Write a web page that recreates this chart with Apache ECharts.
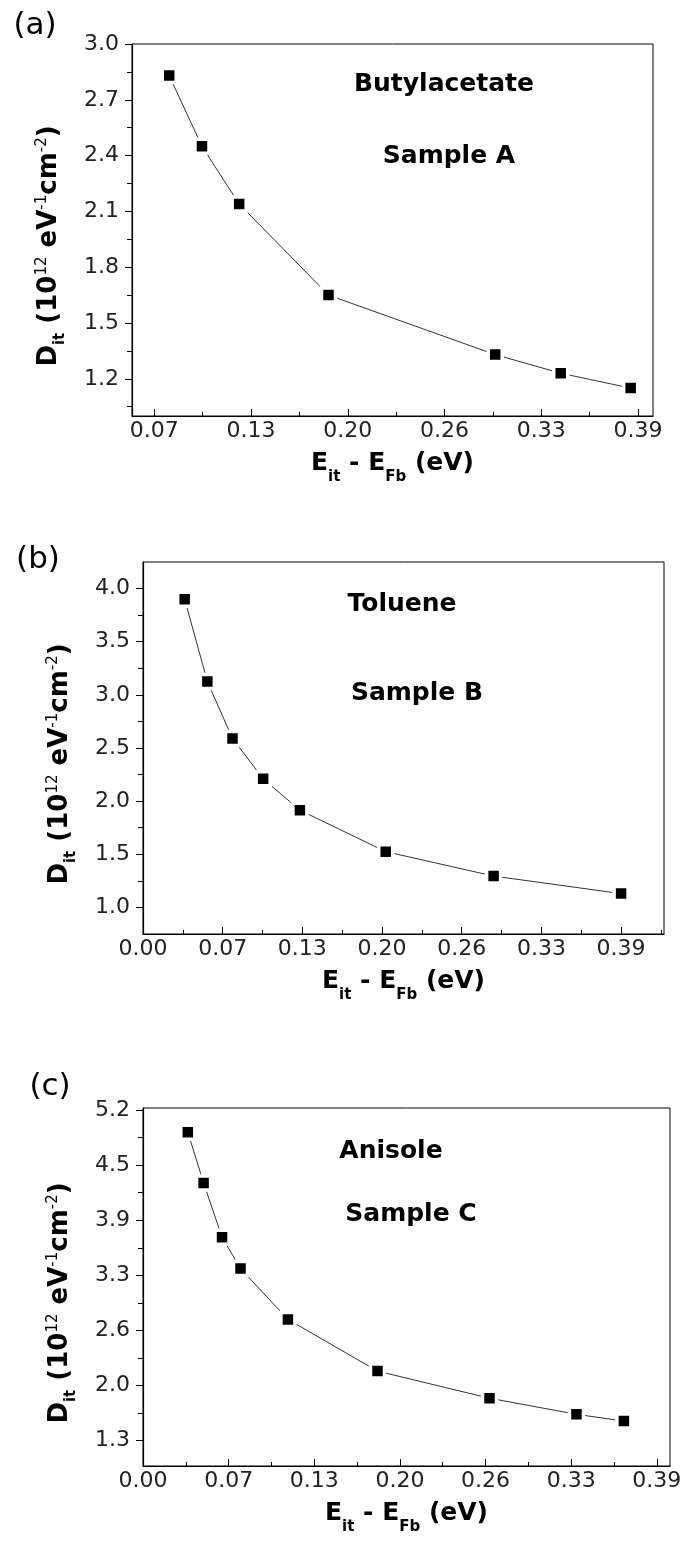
<!DOCTYPE html>
<html>
<head>
<meta charset="utf-8" />
<title>Dit vs energy</title>
<script src="https://cdn.jsdelivr.net/npm/echarts@6.0.0/dist/echarts.min.js"></script>
<style>
  body { margin: 0; padding: 0; background: #fff; }
  #main { width: 687px; height: 1550px; }
</style>
</head>
<body>
<div id="main"></div>
<script>
// ---- data ----
// (a) butylacetate, sample A
var aX = [0.075, 0.097, 0.122, 0.182, 0.294, 0.338, 0.385];
var aY = [2.83, 2.45, 2.14, 1.65, 1.33, 1.23, 1.15];
// (b) toluene, sample B
var bX = [0.034, 0.0525, 0.073, 0.098, 0.128, 0.198, 0.286, 0.39];
var bY = [3.90, 3.125, 2.59, 2.21, 1.915, 1.525, 1.295, 1.13];
// (c) anisole, sample C
var cX = [0.034, 0.046, 0.060, 0.074, 0.110, 0.178, 0.263, 0.329, 0.365];
var cY = [4.94, 4.34, 3.70, 3.33, 2.73, 2.12, 1.80, 1.61, 1.53];

// tick values and the labels printed at them
var aXTicks = [0.065, 0.13, 0.195, 0.26, 0.325, 0.39];
var aXLabels = ['0.07', '0.13', '0.20', '0.26', '0.33', '0.39'];
var aYTicks = [1.2, 1.5, 1.8, 2.1, 2.4, 2.7, 3.0];
var aYLabels = ['1.2', '1.5', '1.8', '2.1', '2.4', '2.7', '3.0'];

var bXTicks = [0, 0.065, 0.13, 0.195, 0.26, 0.325, 0.39];
var bXLabels = ['0.00', '0.07', '0.13', '0.20', '0.26', '0.33', '0.39'];
var bYTicks = [1.0, 1.5, 2.0, 2.5, 3.0, 3.5, 4.0];
var bYLabels = ['1.0', '1.5', '2.0', '2.5', '3.0', '3.5', '4.0'];

var cXTicks = [0, 0.065, 0.13, 0.195, 0.26, 0.325, 0.39];
var cXLabels = ['0.00', '0.07', '0.13', '0.20', '0.26', '0.33', '0.39'];
var cYTicks = [1.3, 1.95, 2.6, 3.25, 3.9, 4.55, 5.2];
var cYLabels = ['1.3', '2.0', '2.6', '3.3', '3.9', '4.5', '5.2'];

var panelNames = ['(a)', '(b)', '(c)'];
var solvents = ['Butylacetate', 'Toluene', 'Anisole'];
var samples = ['Sample A', 'Sample B', 'Sample C'];

var FONT = 'DejaVu Sans';

function zip(xs, ys) {
  return xs.map(function (x, i) { return [x, ys[i]]; });
}
function labelFor(ticks, labels) {
  return function (v) {
    var best = 0;
    for (var i = 1; i < ticks.length; i++) {
      if (Math.abs(ticks[i] - v) < Math.abs(ticks[best] - v)) best = i;
    }
    return labels[best];
  };
}
// minor ticks halfway between the major ones, kept inside the axis range
function minors(ticks, min, max) {
  var step = ticks[1] - ticks[0];
  var out = [];
  for (var i = -1; i < ticks.length; i++) {
    var m = (i < 0 ? ticks[0] - step / 2 : ticks[i] + step / 2);
    if (m > min + 1e-9 && m < max - 1e-9) out.push(+m.toFixed(4));
  }
  return out;
}

var panels = [
  { x: aX, y: aY, xt: aXTicks, xl: aXLabels, yt: aYTicks, yl: aYLabels,
    xMin: 0.05, xMax: 0.40, yMin: 1.0, yMax: 3.0,
    grid: { left: 132, top: 44, width: 521, height: 372 } },
  { x: bX, y: bY, xt: bXTicks, xl: bXLabels, yt: bYTicks, yl: bYLabels,
    xMin: 0, xMax: 0.425, yMin: 0.75, yMax: 4.25,
    grid: { left: 143, top: 562, width: 521, height: 372 } },
  { x: cX, y: cY, xt: cXTicks, xl: cXLabels, yt: cYTicks, yl: cYLabels,
    xMin: 0, xMax: 0.40, yMin: 1.0, yMax: 5.225,
    grid: { left: 143, top: 1108, width: 527, height: 358 } }
];

var xName = '{m|E}{s|it}{m| - E}{s|Fb}{m| (eV)}';
var yName = '{m|D}{s|it}{m| (10}{p|12}{m| eV}{p|-1}{m|cm}{p|-2}{m|)}';

var grids = [], xAxes = [], yAxes = [], series = [];

panels.forEach(function (p, i) {
  grids.push({
    left: p.grid.left, top: p.grid.top, width: p.grid.width, height: p.grid.height,
    show: true, borderColor: '#000', borderWidth: 1, backgroundColor: 'transparent',
    outerBoundsMode: 'none', containLabel: false
  });

  // main x axis
  xAxes.push({
    type: 'value', gridIndex: i, position: 'bottom', min: p.xMin, max: p.xMax,
    name: xName, nameLocation: 'middle', nameGap: 34,
    nameTextStyle: {
      rich: {
        m: { fontFamily: FONT, fontWeight: 'bold', fontSize: 25, lineHeight: 26, color: '#000' },
        s: { fontFamily: FONT, fontWeight: 'bold', fontSize: 15, lineHeight: 16, color: '#000', padding: [27, 0, 0, 0] }
      }
    },
    axisLine: { show: true, onZero: false, lineStyle: { color: '#000', width: 1.2 } },
    axisTick: { show: true, inside: true, length: 7, customValues: p.xt, lineStyle: { color: '#000', width: 1 } },
    axisLabel: { customValues: p.xt, formatter: labelFor(p.xt, p.xl), margin: 4,
      fontFamily: FONT, fontSize: 22, color: '#222' },
    splitLine: { show: false }
  });
  // minor x ticks
  xAxes.push({
    type: 'value', gridIndex: i, position: 'bottom', min: p.xMin, max: p.xMax,
    axisLine: { show: false },
    axisTick: { show: true, inside: true, length: 4, customValues: minors(p.xt, p.xMin, p.xMax), lineStyle: { color: '#000', width: 1 } },
    axisLabel: { show: false }, splitLine: { show: false }
  });

  // main y axis
  yAxes.push({
    type: 'value', gridIndex: i, position: 'left', min: p.yMin, max: p.yMax,
    name: yName, nameLocation: 'middle', nameRotate: 90, nameGap: 69,
    nameTextStyle: {
      padding: [0, 32, 0, 0],
      rich: {
        m: { fontFamily: FONT, fontWeight: 'bold', fontSize: 26, lineHeight: 28, color: '#000' },
        s: { fontFamily: FONT, fontWeight: 'bold', fontSize: 15, lineHeight: 16, color: '#000', padding: [22, 0, 0, 0] },
        p: { fontFamily: FONT, fontWeight: 'normal', fontSize: 15, lineHeight: 16, color: '#000', padding: [0, 0, 13, 0] }
      }
    },
    axisLine: { show: true, onZero: false, lineStyle: { color: '#000', width: 1.2 } },
    axisTick: { show: true, inside: false, length: 7, customValues: p.yt, lineStyle: { color: '#000', width: 1 } },
    axisLabel: { customValues: p.yt, formatter: labelFor(p.yt, p.yl), margin: 13,
      fontFamily: FONT, fontSize: 22, color: '#222' },
    splitLine: { show: false }
  });
  // minor y ticks
  yAxes.push({
    type: 'value', gridIndex: i, position: 'left', min: p.yMin, max: p.yMax,
    axisLine: { show: false },
    axisTick: { show: true, inside: false, length: 5, customValues: minors(p.yt, p.yMin, p.yMax), lineStyle: { color: '#000', width: 1 } },
    axisLabel: { show: false }, splitLine: { show: false }
  });

  series.push({
    type: 'line', xAxisIndex: i * 2, yAxisIndex: i * 2,
    data: zip(p.x, p.y),
    symbol: 'rect', symbolSize: 14,
    itemStyle: { color: '#000', borderColor: '#fff', borderWidth: 3.5 },
    lineStyle: { color: '#333', width: 1 },
    z: 3
  });
});

function txt(x, y, text, size, weight) {
  return {
    type: 'text', x: x, y: y, z: 10,
    style: { text: text, fontFamily: FONT, fontSize: size, fontWeight: weight,
      fill: '#000', align: 'center', verticalAlign: 'middle' }
  };
}

var graphics = [
  txt(35, 26, panelNames[0], 31, 'normal'),
  txt(38, 560, panelNames[1], 31, 'normal'),
  txt(50, 1087, panelNames[2], 31, 'normal'),
  txt(444, 84, solvents[0], 25, 'bold'),
  txt(449, 156, samples[0], 25, 'bold'),
  txt(402, 604, solvents[1], 25, 'bold'),
  txt(417, 693, samples[1], 25, 'bold'),
  txt(391, 1151, solvents[2], 25, 'bold'),
  txt(411, 1214, samples[2], 25, 'bold')
];

var chart = echarts.init(document.getElementById('main'), null, { renderer: 'canvas' });
chart.setOption({
  animation: false,
  backgroundColor: '#fff',
  grid: grids,
  xAxis: xAxes,
  yAxis: yAxes,
  series: series,
  graphic: graphics
});
</script>
</body>
</html>
